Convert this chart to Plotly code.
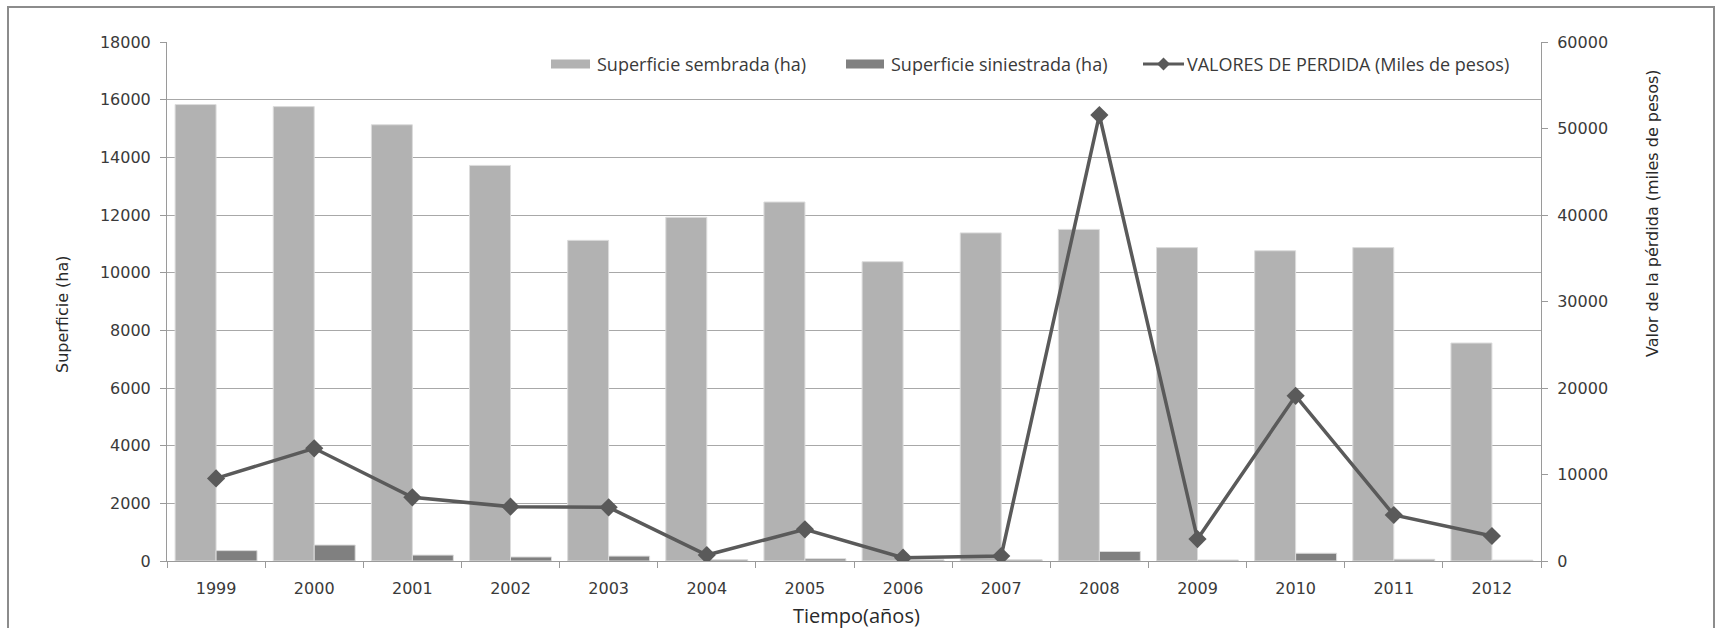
import plotly.graph_objects as go

# Años de la serie
years = ["1999", "2000", "2001", "2002", "2003", "2004", "2005",
         "2006", "2007", "2008", "2009", "2010", "2011", "2012"]

# Superficie sembrada (ha)
sembrada = [15830, 15760, 15130, 13720, 11120, 11920, 12450,
            10380, 11380, 11500, 10870, 10760, 10870, 7560]

# Superficie siniestrada (ha)
siniestrada = [360, 555, 205, 140, 170, 45, 75,
               40, 40, 330, 35, 270, 60, 30]

# Valores de pérdida (miles de pesos)
perdida = [9550, 13030, 7360, 6280, 6200, 690, 3660,
           380, 580, 51560, 2540, 19100, 5320, 2890]

SERIES_NAMES = ["Superficie sembrada (ha)",
                "Superficie siniestrada (ha)",
                "VALORES DE PERDIDA (Miles de pesos)"]
C_SEMBRADA = "#b2b2b2"
C_SINIESTRADA = "#808080"
C_LINEA = "#5a5a5a"

TICK_FONT = dict(family="DejaVu Sans", size=16, color="#3a3a3a")
AXIS_GRAY = "#9a9a9a"

fig = go.Figure()

fig.add_trace(go.Bar(
    x=years, y=sembrada, name=SERIES_NAMES[0],
    marker=dict(color=C_SEMBRADA, line=dict(color="#dcdcdc", width=1)),
))
fig.add_trace(go.Bar(
    x=years, y=siniestrada, name=SERIES_NAMES[1],
    marker=dict(color=C_SINIESTRADA, line=dict(color="#dcdcdc", width=1)),
))
fig.add_trace(go.Scatter(
    x=years, y=perdida, name=SERIES_NAMES[2],
    yaxis="y2", mode="lines+markers",
    line=dict(color=C_LINEA, width=3.5),
    marker=dict(symbol="diamond", size=14, color=C_LINEA),
))

L, R, T, B = 167, 175, 42, 67
W, H = 1716, 628
pw, ph = W - L - R, H - T - B


def px(x):
    return (x - L) / pw


def py(y):
    return (H - B - y) / ph


# Leyenda dibujada a mano: muestras rectangulares anchas como en Excel
LEG_FONT = dict(family="Open Sans", size=18, color="#3a3a3a")
leg_y = 64
shapes = [
    dict(type="rect", xref="paper", yref="paper",
         x0=px(8), x1=px(1714), y0=py(660), y1=py(7),
         line=dict(color="#8c8c8c", width=2), layer="below"),
    dict(type="rect", xref="paper", yref="paper",
         x0=px(551), x1=px(590), y0=py(leg_y + 4.5), y1=py(leg_y - 4.5),
         fillcolor=C_SEMBRADA, line=dict(width=0)),
    dict(type="rect", xref="paper", yref="paper",
         x0=px(846), x1=px(884), y0=py(leg_y + 4.5), y1=py(leg_y - 4.5),
         fillcolor=C_SINIESTRADA, line=dict(width=0)),
    dict(type="line", xref="paper", yref="paper",
         x0=px(1143), x1=px(1184), y0=py(leg_y), y1=py(leg_y),
         line=dict(color=C_LINEA, width=3)),
    dict(type="path", xref="paper", yref="paper",
         path=("M {a},{m} L {b},{t} L {c},{m} L {b},{d} Z".format(
             a=px(1157), b=px(1163.5), c=px(1170),
             m=py(leg_y), t=py(leg_y - 6.5), d=py(leg_y + 6.5))),
         fillcolor=C_LINEA, line=dict(width=0)),
]

annotations = [
    dict(text="Superficie (ha)", xref="paper", yref="paper",
         x=px(62), y=py(314), textangle=-90, showarrow=False,
         xanchor="center", yanchor="middle",
         font=dict(family="DejaVu Sans", size=16, color="#2a2a2a")),
    dict(text="Valor de la pérdida (miles de pesos)", xref="paper",
         yref="paper", x=px(1652), y=py(213), textangle=-90,
         showarrow=False, xanchor="center", yanchor="middle",
         font=dict(family="DejaVu Sans", size=16, color="#2a2a2a")),
    dict(text="Tiempo(años)", xref="paper", yref="paper",
         x=px(857), y=py(615), showarrow=False,
         xanchor="center", yanchor="middle",
         font=dict(family="Open Sans", size=20, color="#2a2a2a")),
]
for name, x0 in zip(SERIES_NAMES, [595, 889, 1185]):
    annotations.append(dict(
        text=name, xref="paper", yref="paper", x=px(x0), y=py(leg_y),
        xanchor="left", yanchor="middle", showarrow=False, font=LEG_FONT,
    ))

fig.update_layout(
    width=W, height=H,
    margin=dict(l=L, r=R, t=T, b=B, autoexpand=False),
    paper_bgcolor="white", plot_bgcolor="white",
    barmode="group", bargap=0.165, bargroupgap=0,
    font=dict(family="DejaVu Sans", color="#3a3a3a"),
    showlegend=False,
    xaxis=dict(
        type="category", range=[-0.5, len(years) - 0.5], tickfont=TICK_FONT,
        showline=True, linecolor=AXIS_GRAY, linewidth=1,
        ticks="outside", tickson="boundaries", ticklen=6,
        tickcolor=AXIS_GRAY, showgrid=False, ticklabelstandoff=13,
    ),
    yaxis=dict(
        range=[0, 18000], dtick=2000, tickformat="d", tickfont=TICK_FONT,
        showline=True, linecolor=AXIS_GRAY, linewidth=1,
        ticks="outside", ticklen=6, tickcolor=AXIS_GRAY,
        showgrid=True, gridcolor="#a8a8a8", gridwidth=1,
        zeroline=False, ticklabelstandoff=6,
    ),
    yaxis2=dict(
        range=[0, 60000], dtick=10000, tickformat="d", tickfont=TICK_FONT,
        overlaying="y", side="right",
        showline=True, linecolor=AXIS_GRAY, linewidth=1,
        ticks="outside", ticklen=6, tickcolor=AXIS_GRAY,
        showgrid=False, zeroline=False, ticklabelstandoff=6,
    ),
    shapes=shapes,
    annotations=annotations,
)

fig.write_html("out.html")
